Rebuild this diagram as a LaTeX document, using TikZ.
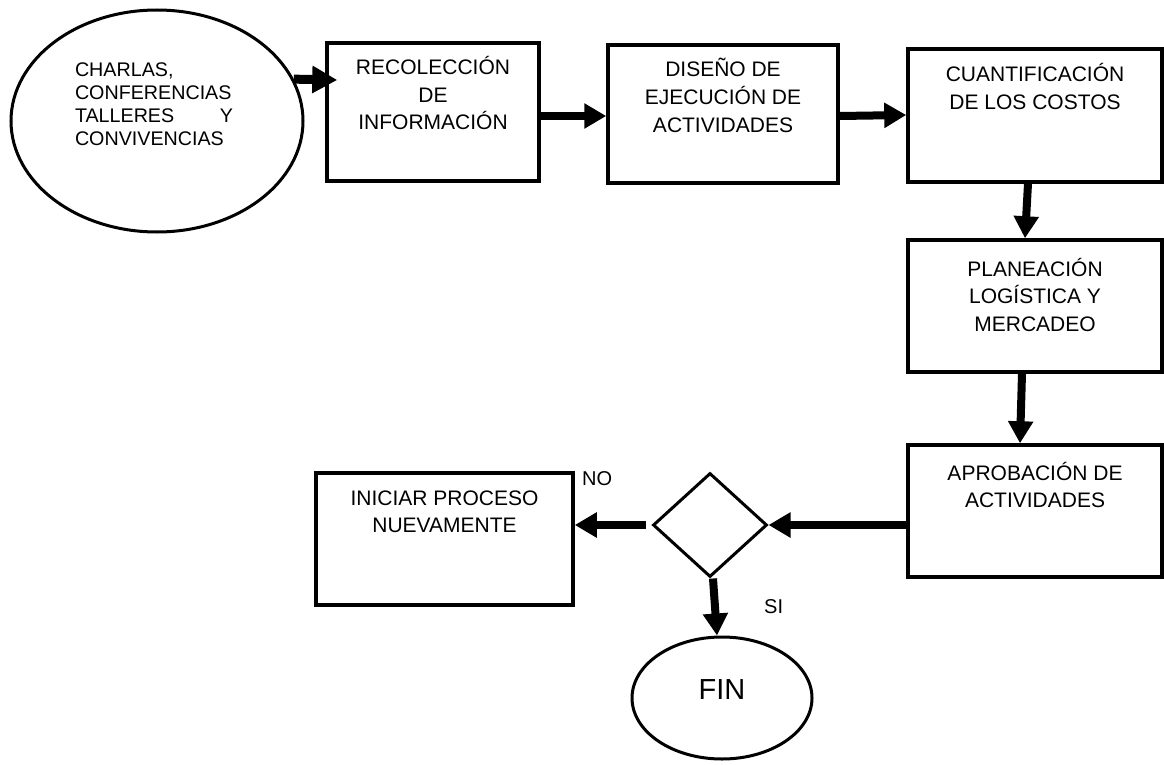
\documentclass[tikz,border=0pt]{standalone}
\usepackage{fontspec}
\setmainfont{Liberation Sans}
\usetikzlibrary{arrows.meta,shapes.geometric}
\newcommand{\ztext}[3]{\makebox[0pt][c]{\raisebox{#2}[0pt][0pt]{\parbox[t]{#1}{\centering #3}}}}
\begin{document}
\begin{tikzpicture}[x=1pt,y=-1pt,
  procbox/.style={draw, rectangle, line width=3.5pt, inner sep=0pt, font=\fontsize{21}{27.5}\selectfont},
  oval/.style={draw, ellipse, line width=3pt, inner sep=0pt},
  decision/.style={draw, diamond, line width=3pt, inner sep=0pt},
  flow/.style={line width=8pt, -{Triangle[length=22pt,width=24pt]}},
  lbl/.style={font=\fontsize{20}{24}\selectfont, inner sep=0pt}]
\useasboundingbox (0,0) rectangle (1164,765);
\fill[white] (0,0) rectangle (1164,765);

% start ellipse
\node[oval, minimum width=292pt, minimum height=222pt] (e1) at (157,121)
  {\makebox[0pt][l]{\hspace*{-82pt}\raisebox{44pt}[0pt][0pt]{\parbox[t]{158pt}{\fontsize{19.7}{23}\selectfont
   CHARLAS,\\CONFERENCIAS\\TALLERES\hfill Y\\CONVIVENCIAS}}}};

% process boxes
\node[procbox, minimum width=212pt, minimum height=138pt] (b1) at (433,112)
  {\ztext{200pt}{37pt}{RECOLECCIÓN\\DE\\INFORMACIÓN}};
\node[procbox, minimum width=230pt, minimum height=138pt] (b2) at (723,114)
  {\ztext{220pt}{37pt}{DISEÑO DE\\EJECUCIÓN DE\\ACTIVIDADES}};
\node[procbox, minimum width=254pt, minimum height=133pt] (b3) at (1035,115.5)
  {\ztext{240pt}{33.5pt}{CUANTIFICACIÓN\\DE LOS COSTOS}};
\node[procbox, minimum width=254pt, minimum height=132pt] (b4) at (1035,306)
  {\ztext{240pt}{30pt}{PLANEACIÓN\\LOGÍSTICA Y\\MERCADEO}};
\node[procbox, minimum width=254pt, minimum height=132pt] (b5) at (1035,511)
  {\ztext{240pt}{31pt}{APROBACIÓN DE\\ACTIVIDADES}};
\node[procbox, minimum width=257pt, minimum height=132pt] (b6) at (444.5,539)
  {\ztext{245pt}{34pt}{INICIAR PROCESO\\NUEVAMENTE}};

% decision
\node[decision, minimum width=114pt, minimum height=104pt] (d) at (710,525) {};

% end
\node[oval, minimum width=180pt, minimum height=122pt] (f) at (722,698)
  {\makebox[0pt][c]{\raisebox{-1pt}[0pt][0pt]{\fontsize{29}{34}\selectfont FIN}}};

% labels
\node[lbl, anchor=base west] (no) at (582,485) {NO};
\node[lbl, anchor=base west] (si) at (764,613) {SI};

% connectors
\draw[line width=9pt, -{Triangle[length=25pt,width=26pt]}] (e1.17) -- ([xshift=12pt,yshift=32pt]b1.west);
\draw[flow] ([yshift=-4pt]b1.east) -- ([yshift=-2pt]b2.west);
\draw[flow] ([yshift=-2pt]b2.east) -- ([yshift=0.5pt]b3.west);
\draw[flow] ([xshift=-7pt]b3.south) -- ([xshift=-10pt]b4.north);
\draw[flow] ([xshift=-13pt]b4.south) -- ([xshift=-15pt]b5.north);
\draw[flow] (b5.west |- d.east) -- (d.east);
\draw[flow] ([xshift=-6pt]d.west) -- (b6.east |- d.west);
\draw[flow] ([xshift=3pt]d.south) -- ([xshift=-5pt]f.north);
\end{tikzpicture}
\end{document}
